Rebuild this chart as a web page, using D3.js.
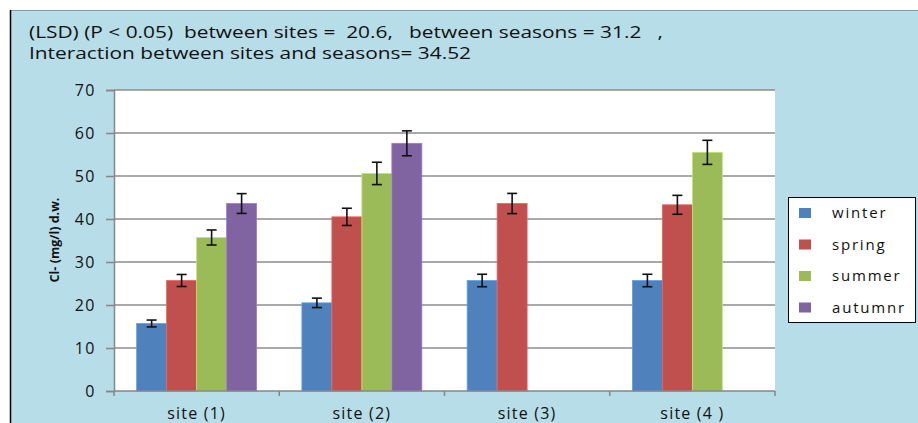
<!DOCTYPE html>
<html>
<head>
<meta charset="utf-8">
<script src="https://cdn.jsdelivr.net/npm/d3@7"></script>
<style>
  body { margin: 0; background: #fff; }
  svg { display: block; font-family: 'Open Sans', sans-serif; }
  text { white-space: pre; }
</style>
</head>
<body>
<svg id="chart" width="918" height="423"></svg>
<script>
  'use strict';

  var sites = ['site (1)', 'site (2)', 'site (3)', 'site (4 )'];
  var seasons = ['winter', 'spring', 'summer', 'autumnr'];
  var colors = ['#4f81bd', '#c0504d', '#9bbb59', '#8064a2'];

  // one array per season, in site order (null = no bar)
  var winter = [15.7, 20.5, 25.7, 25.7];
  var spring = [25.7, 40.5, 43.6, 43.3];
  var summer = [35.7, 50.6, null, 55.5];
  var autumn = [43.6, 57.6, null, null];

  var winterErr = [0.8, 1.1, 1.45, 1.45];
  var springErr = [1.4, 2.0, 2.35, 2.2];
  var summerErr = [1.75, 2.6, null, 2.8];
  var autumnErr = [2.3, 2.9, null, null];

  var yTicks = [0, 10, 20, 30, 40, 50, 60, 70];
  var titleLines = [
    '(LSD) (P < 0.05)  between sites =  20.6,   between seasons = 31.2   ,',
    'Interaction between sites and seasons= 34.52'
  ];
  var yLabel = 'Cl- (mg/l) d.w.';

  var values = [winter, spring, summer, autumn];
  var errors = [winterErr, springErr, summerErr, autumnErr];

  var svg = d3.select('#chart');

  // chart area background, runs off the right and bottom edges
  svg.append('rect')
    .attr('x', 10).attr('y', 10)
    .attr('width', 920).attr('height', 420)
    .attr('fill', '#b7dde8');
  svg.append('line')
    .attr('x1', 10).attr('x2', 918).attr('y1', 10.5).attr('y2', 10.5)
    .style('stroke', '#8a9aa3').style('stroke-width', 1);
  svg.append('line')
    .attr('x1', 10.5).attr('x2', 10.5).attr('y1', 10).attr('y2', 423)
    .style('stroke', '#000').style('stroke-width', 1.5);

  // title
  var titleWidths = [634, 442];
  titleLines.forEach(function(line, i) {
    svg.append('text')
      .attr('x', 29)
      .attr('y', 38 + i * 21)
      .attr('font-size', 16.5)
      .attr('fill', '#111')
      .attr('textLength', titleWidths[i])
      .attr('lengthAdjust', 'spacingAndGlyphs')
      .text(line);
  });

  var plot = { left: 114, right: 775, top: 90, bottom: 391 };

  var x0 = d3.scaleBand()
    .domain(sites)
    .range([plot.left, plot.right]);

  var x1 = d3.scaleBand()
    .domain(seasons)
    .range([x0.bandwidth() * 0.137, x0.bandwidth() * 0.863]);

  var y = d3.scaleLinear()
    .domain([0, 70])
    .range([plot.bottom, plot.top]);

  svg.append('rect')
    .attr('x', plot.left).attr('y', plot.top)
    .attr('width', plot.right - plot.left)
    .attr('height', plot.bottom - plot.top)
    .attr('fill', '#fff');

  // gridlines
  svg.append('g')
    .selectAll('line')
    .data(yTicks.slice(1))
    .enter().append('line')
    .attr('x1', plot.left).attr('x2', plot.right)
    .attr('y1', function(d) { return y(d); })
    .attr('y2', function(d) { return y(d); })
    .style('stroke', '#8c8c8c')
    .style('stroke-width', 1.5);

  // bars
  var groups = svg.append('g')
    .selectAll('g')
    .data(sites)
    .enter().append('g')
    .attr('transform', function(d) { return 'translate(' + x0(d) + ',0)'; });

  groups.each(function(site, si) {
    var g = d3.select(this);
    seasons.forEach(function(season, k) {
      var v = values[k][si];
      if (v === null) {
        return;
      }
      g.append('rect')
        .attr('x', x1(season))
        .attr('y', y(v))
        .attr('width', x1.bandwidth())
        .attr('height', y(0) - y(v))
        .attr('fill', colors[k])
        .style('stroke', d3.color(colors[k]).brighter(0.6))
        .style('stroke-width', 0.8);

      var e = errors[k][si];
      var cx = x1(season) + x1.bandwidth() / 2;
      var eg = g.append('g')
        .style('stroke', '#111')
        .style('stroke-width', 1.6);
      eg.append('line')
        .attr('x1', cx).attr('x2', cx)
        .attr('y1', y(v + e)).attr('y2', y(v - e));
      eg.append('line')
        .attr('x1', cx - 5).attr('x2', cx + 5)
        .attr('y1', y(v + e)).attr('y2', y(v + e));
      eg.append('line')
        .attr('x1', cx - 5).attr('x2', cx + 5)
        .attr('y1', y(v - e)).attr('y2', y(v - e));
    });
  });

  // y axis
  var yAxis = d3.axisLeft(y)
    .tickValues(yTicks)
    .tickSize(8)
    .tickPadding(10);
  var yAxisG = svg.append('g')
    .attr('transform', 'translate(' + plot.left + ',0)')
    .call(yAxis);
  yAxisG.select('.domain').style('stroke', '#868686').style('stroke-width', 1.5);
  yAxisG.selectAll('.tick line').style('stroke', '#868686').style('stroke-width', 1.5);
  yAxisG.selectAll('.tick text')
    .attr('font-size', 16)
    .attr('letter-spacing', 1.5)
    .attr('font-family', 'Open Sans, sans-serif')
    .attr('fill', '#111');

  // x axis: ticks at the group boundaries
  var xAxisG = svg.append('g');
  xAxisG.append('line')
    .attr('x1', plot.left).attr('x2', plot.right)
    .attr('y1', plot.bottom).attr('y2', plot.bottom)
    .style('stroke', '#868686').style('stroke-width', 1.5);
  var bounds = sites.map(function(s) { return x0(s); }).concat([x0.range()[1]]);
  xAxisG.selectAll('line.tk')
    .data(bounds)
    .enter().append('line')
    .attr('class', 'tk')
    .attr('x1', function(d) { return d; })
    .attr('x2', function(d) { return d; })
    .attr('y1', plot.bottom).attr('y2', plot.bottom + 5)
    .style('stroke', '#868686').style('stroke-width', 1.5);
  xAxisG.selectAll('text')
    .data(sites)
    .enter().append('text')
    .attr('x', function(d) { return x0(d) + x0.bandwidth() / 2; })
    .attr('y', 419)
    .attr('text-anchor', 'middle')
    .attr('font-size', 16)
    .attr('letter-spacing', 1.2)
    .attr('fill', '#111')
    .text(function(d) { return d; });

  // y axis title
  svg.append('text')
    .attr('transform', 'translate(59,240) rotate(-90)')
    .attr('text-anchor', 'middle')
    .attr('font-size', 12.5)
    .attr('font-weight', 'bold')
    .attr('fill', '#111')
    .text(yLabel);

  // legend
  var legend = svg.append('g');
  legend.append('rect')
    .attr('x', 788.5).attr('y', 197.5)
    .attr('width', 127).attr('height', 125)
    .attr('fill', '#fff')
    .style('stroke', '#000')
    .style('stroke-width', 1);
  seasons.forEach(function(s, i) {
    var ly = 213 + i * 31.5;
    legend.append('rect')
      .attr('x', 799).attr('y', ly - 5)
      .attr('width', 12).attr('height', 10)
      .attr('fill', colors[i]);
    legend.append('text')
      .attr('x', 832).attr('y', ly + 5)
      .attr('font-size', 15)
      .attr('letter-spacing', 1.8)
      .attr('fill', '#111')
      .text(s);
  });
</script>
</body>
</html>
